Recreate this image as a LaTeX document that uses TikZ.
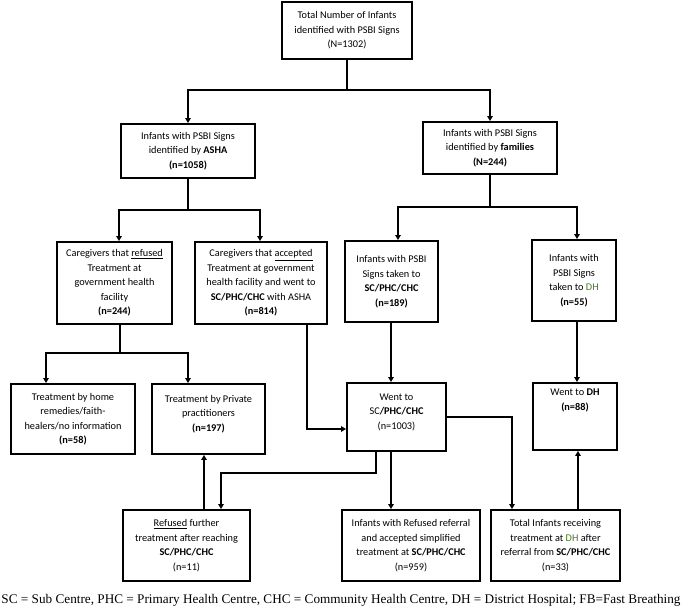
\documentclass[tikz,border=0pt]{standalone}
\usepackage{fontspec}
\usepackage{graphicx}
\setmainfont{Carlito}
\newfontfamily\capfont{Liberation Serif}
\usetikzlibrary{arrows.meta}
\definecolor{dhgreen}{RGB}{70,120,40}
\tikzset{
  box/.style={draw, line width=1.9pt, align=center, inner sep=0pt,
    font=\fontsize{10.3pt}{14.5pt}\selectfont},
  txt/.style={align=center, inner sep=0pt, font=\fontsize{10.3pt}{14.5pt}\selectfont},
  conn/.style={line width=1.7pt},
  arr/.style={line width=1.7pt, -{Triangle[length=5pt,width=5.5pt]}}
}
\begin{document}
\begin{tikzpicture}[x=1pt,y=-1pt]
\useasboundingbox (0,0) rectangle (682,612);
% boxes
\node[box, minimum width=130pt, minimum height=57pt] (top) at (347,30.5) {Total Number of Infants\\identified with PSBI Signs\\(N=1302)};
\node[box, minimum width=134pt, minimum height=54pt] (asha) at (188,151) {Infants with PSBI Signs\\identified by \textbf{ASHA}\\\textbf{(n=1058)}};
\node[box, minimum width=134pt, minimum height=52pt] (fam) at (490,148) {Infants with PSBI Signs\\identified by \textbf{families}\\\textbf{(N=244)}};
\node[box, minimum width=115pt, minimum height=82pt] (ref) at (114.5,283) {Caregivers that \underline{refused}\\Treatment at\\government health\\facility\\\textbf{(n=244)}};
\node[box, minimum width=132pt, minimum height=82pt] (acc) at (261,283) {Caregivers that \underline{accepted}\\Treatment at government\\health facility and went to\\\textbf{SC/PHC/CHC} with ASHA\\\textbf{(n=814)}};
\node[box, minimum width=93pt, minimum height=81pt] (sct) at (391.5,281.5) {Infants with PSBI\\Signs taken to\\\textbf{SC/PHC/CHC}\\\textbf{(n=189)}};
\node[box, minimum width=84pt, minimum height=81pt] (dht) at (574,280.5) {Infants with\\PSBI Signs\\taken to \textcolor{dhgreen}{DH}\\\textbf{(n=55)}};
\node[box, minimum width=124pt, minimum height=70pt] (home) at (73,419) {Treatment by home\\remedies/faith-\\healers/no information\\\textbf{(n=58)}};
\node[box, minimum width=113pt, minimum height=70pt] (priv) at (208.5,419) {};
\node[txt] (privt) at (208.5,414) {Treatment by Private\\practitioners\\\textbf{(n=197)}};
\node[box, minimum width=99pt, minimum height=68pt] (went) at (396.5,417) {};
\node[txt] (wentt) at (396.5,412) {Went to\\SC\textbf{/PHC/CHC}\\(n=1003)};
\node[box, minimum width=84pt, minimum height=67pt] (wdh) at (575,416.5) {};
\node[txt, anchor=north] (wdht) at ([yshift=-7pt]wdh.north) {Went to \textbf{DH}\\\textbf{(n=88)}};
\node[box, minimum width=127pt, minimum height=71pt] (rfur) at (186.5,545.5) {\underline{Refused} further\\treatment after reaching\\\textbf{SC/PHC/CHC}\\(n=11)};
\node[box, minimum width=138pt, minimum height=71pt] (rref) at (411,545.5) {Infants with Refused referral\\and accepted simplified\\treatment at \textbf{SC/PHC/CHC}\\(n=959)};
\node[box, minimum width=129pt, minimum height=71pt] (tdh) at (555.5,545.5) {Total Infants receiving\\treatment at \textcolor{dhgreen}{DH} after\\referral from \textbf{SC/PHC/CHC}\\(n=33)};
% junctions
\coordinate (j1) at (347,90);
\coordinate (j2) at (188,210);
\coordinate (j3) at (490,207);
\coordinate (j4) at (120,353);
\coordinate (j5) at (221,473);
% connectors
\draw[conn] (top.south) -- (j1);
\draw[arr] (j1) -| (asha.north);
\draw[arr] (j1) -| (fam.north);
\draw[conn] (asha.south) -- (j2);
\draw[arr] (j2) -| ([xshift=4.5pt]ref.north);
\draw[arr] (j2) -| ([xshift=-1pt]acc.north);
\draw[conn] (fam.south) -- (j3);
\draw[arr] (j3) -| ([xshift=6.5pt]sct.north);
\draw[arr] (j3) -| ([xshift=3pt]dht.north);
\draw[conn] ([xshift=5.5pt]ref.south) -- (j4);
\draw[arr] (j4) -| ([xshift=-27pt]home.north);
\draw[arr] (j4) -| ([xshift=-20.5pt]priv.north);
\draw[arr] ([xshift=46pt]acc.south) |- ([yshift=-12pt]went.west);
\draw[arr] ([xshift=-0.5pt]sct.south) -- ([xshift=-0.5pt]sct.south |- went.north);
\draw[arr] ([xshift=3pt]dht.south) -- ([xshift=3pt]dht.south |- wdh.north);
\draw[arr] (went.east) -| ([xshift=-43.5pt]tdh.north);
\draw[arr] ([xshift=22.5pt]tdh.north) -- ([xshift=22.5pt]tdh.north |- wdh.south);
\draw[arr] ([xshift=-20.5pt]went.south) |- (j5) -- (j5 |- rfur.north);
\draw[arr] ([xshift=-5.5pt]went.south) -- ([xshift=-5.5pt]went.south |- rref.north);
\draw[arr] ([xshift=17.5pt]rfur.north) -- ([xshift=17.5pt]rfur.north |- priv.south);
% caption
\node[inner sep=0pt] (cap) at (341,600) {\resizebox{679pt}{!}{\capfont SC = Sub Centre, PHC = Primary Health Centre, CHC = Community Health Centre, DH = District Hospital; FB=Fast Breathing}};
\end{tikzpicture}
\end{document}
